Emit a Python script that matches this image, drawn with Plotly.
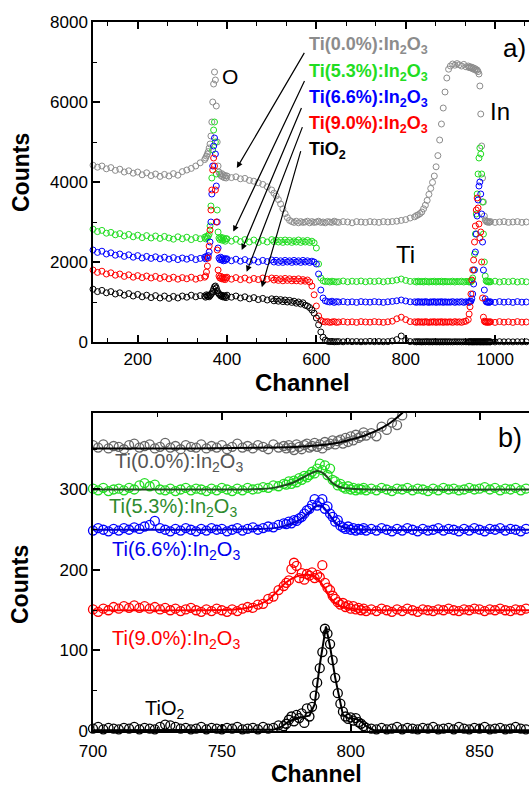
import plotly.graph_objects as go

# ---------------- panel a) : channel grid and counts ----------------
ch_a = (list(range(100, 350, 10)) + list(range(350, 400, 2)) + list(range(400, 500, 10))
        + list(range(500, 650, 5)) + list(range(650, 820, 10)) + list(range(820, 900, 4))
        + list(range(900, 940, 5)) + list(range(940, 990, 2)) + list(range(990, 1080, 10)))

ti00_a = [4420, 4370, 4400, 4330, 4360, 4290, 4320, 4250, 4280, 4220, 4250, 4180, 4230, 4160, 4200, 4140, 4190, 4150, 4210, 4170, 4260, 4300, 4340, 4400, 4480,
          4560, 4600, 4650, 4700, 4760, 4850, 4950, 5150, 5500, 6000, 6450, 6750, 6550, 5900, 5000, 4400, 4250, 4200, 4160, 4210, 4130, 4180, 4110, 4160, 4100,
          4150, 4110, 4130, 4080, 4090, 4040, 4020, 3980, 3940, 3880,
          3800, 3720, 3650, 3560, 3450, 3330, 3210, 3110, 3040, 3010, 2990, 3020, 2980, 3010, 2990, 3000, 3020, 2980, 3010, 2990, 3000, 3020, 2990, 3000, 2980, 3010, 3000, 2990, 3020, 3000,
          2990, 3010, 3000, 2980, 3010, 3000, 2990, 3010, 3000, 2990, 3010, 3000, 3010, 3020, 3040, 3060, 3100,
          3130, 3160, 3180, 3210, 3250, 3330, 3420, 3540, 3690, 3840, 3990, 4150, 4380, 4660, 5050, 5450, 5850, 6250, 6600, 6820,
          6900, 6950, 6920, 6960, 6930, 6900, 6940, 6880,
          6900, 6860, 6880, 6850, 6870, 6830, 6850, 6810, 6830, 6790, 6800, 6760, 6700, 6400, 5700, 4900, 4100, 3500, 3150, 3050, 3020, 3000, 3010, 2990, 3000,
          3010, 2990, 3000, 3010, 2990, 3000, 3010, 2990, 3000]

ti53_a = [2820, 2760, 2790, 2720, 2740, 2680, 2710, 2650, 2690, 2630, 2670, 2610, 2660, 2600, 2650, 2590, 2640, 2600, 2570, 2630, 2580, 2620, 2560, 2610, 2580,
          2620, 2580, 2640, 2600, 2650, 2700, 2900, 3400, 4100, 4800, 5300, 5500, 5000, 4200, 3300, 2750, 2600, 2560, 2620, 2580, 2540, 2600, 2560, 2520, 2580,
          2580, 2520, 2570, 2510, 2560, 2500, 2550, 2490, 2540, 2500,
          2560, 2510, 2550, 2500, 2540, 2490, 2550, 2500, 2540, 2490, 2530, 2500, 2550, 2490, 2530, 2500, 2540, 2490, 2520, 2480, 2350, 1950, 1600, 1530, 1510, 1520, 1500, 1520, 1510, 1500,
          1510, 1525, 1505, 1520, 1510, 1525, 1505, 1520, 1510, 1525, 1505, 1520, 1530, 1550, 1575, 1540, 1515,
          1515, 1500, 1520, 1505, 1515, 1500, 1520, 1510, 1500, 1515, 1505, 1520, 1500, 1515, 1505, 1520, 1500, 1515, 1505, 1510,
          1505, 1520, 1500, 1515, 1505, 1520, 1500, 1515,
          1510, 1500, 1520, 1505, 1530, 1600, 1800, 2200, 2700, 3200, 3700, 4200, 4600, 4850, 4700, 4200, 3500, 2700, 2000, 1650, 1530, 1510, 1520, 1500, 1515,
          1505, 1520, 1500, 1515, 1505, 1520, 1500, 1515, 1505]

ti66_a = [2300, 2240, 2270, 2200, 2230, 2170, 2200, 2140, 2180, 2120, 2160, 2100, 2140, 2090, 2130, 2080, 2120, 2070, 2110, 2060, 2100, 2070, 2110, 2060, 2090,
          2120, 2080, 2140, 2100, 2160, 2250, 2500, 3000, 3700, 4400, 4900, 5100, 4700, 3900, 3000, 2350, 2100, 2060, 2120, 2050, 2080, 2030, 2090, 2040, 2070,
          2080, 2030, 2070, 2020, 2060, 2010, 2050, 2000, 2040, 2010,
          2050, 2000, 2040, 1990, 2030, 1990, 2040, 2000, 2030, 1990, 2040, 2000, 2030, 1990, 2040, 2000, 2030, 1990, 2020, 2000, 1950, 1700, 1300, 1100, 1030, 1010, 1000, 1020, 990, 1010,
          1000, 1010, 995, 1005, 990, 1010, 1000, 995, 1010, 1000, 990, 1005, 1015, 1030, 1050, 1025, 1005,
          1005, 990, 1010, 995, 1005, 990, 1010, 1000, 990, 1005, 995, 1010, 990, 1005, 995, 1010, 990, 1005, 995, 1000,
          995, 1010, 990, 1005, 995, 1010, 990, 1005,
          1000, 990, 1010, 1020, 1080, 1200, 1450, 1800, 2250, 2700, 3150, 3550, 3900, 4000, 3700, 3200, 2500, 1800, 1300, 1080, 1010, 995, 1005, 990, 1000,
          1005, 990, 1010, 995, 1005, 990, 1010, 995, 1000]

ti90_a = [1800, 1740, 1770, 1700, 1730, 1670, 1700, 1640, 1680, 1620, 1660, 1610, 1650, 1600, 1640, 1590, 1630, 1580, 1620, 1570, 1610, 1580, 1620, 1570, 1600,
          1620, 1650, 1750, 1900, 2100, 2400, 2800, 3300, 3800, 4300, 4600, 4400, 3800, 3000, 2300, 1800, 1650, 1600, 1640, 1580, 1620, 1570, 1610, 1560, 1600,
          1620, 1570, 1610, 1560, 1600, 1550, 1590, 1560, 1600, 1570,
          1600, 1550, 1590, 1540, 1580, 1530, 1590, 1540, 1580, 1530, 1570, 1530, 1580, 1520, 1560, 1520, 1550, 1500, 1400, 1180, 900, 650, 540, 510, 500, 510, 490, 500, 510, 490,
          500, 510, 495, 505, 490, 510, 500, 495, 510, 500, 490, 505, 520, 580, 620, 560, 510,
          505, 490, 510, 495, 505, 490, 510, 500, 490, 505, 495, 510, 490, 505, 495, 510, 490, 505, 495, 500,
          505, 490, 510, 495, 505, 490, 510, 520,
          560, 700, 880, 1200, 1550, 1800, 2050, 2500, 2900, 3300, 3600, 3350, 2950, 2600, 2750, 2000, 1100, 620, 520, 500, 510, 490, 505, 495, 500,
          505, 490, 510, 495, 505, 490, 510, 495, 500]

tio2_a = [1320, 1260, 1290, 1230, 1260, 1200, 1230, 1170, 1210, 1150, 1190, 1130, 1170, 1110, 1160, 1100, 1150, 1090, 1140, 1100, 1150, 1120, 1170, 1130, 1160,
          1150, 1120, 1180, 1140, 1170, 1130, 1160, 1190, 1220, 1260, 1320, 1380, 1400, 1350, 1280, 1230, 1200, 1180, 1150, 1170, 1130, 1160, 1120, 1150, 1110,
          1170, 1120, 1150, 1100, 1130, 1080, 1110, 1060, 1090, 1050,
          1080, 1030, 1070, 1020, 1060, 1010, 1050, 1000, 1040, 990, 1020, 970, 1000, 950, 980, 920, 900, 860, 800, 720, 600, 430, 250, 120, 50, 20, 10, 15, 5, 10,
          10, 5, 15, 8, 12, 5, 10, 15, 8, 12, 6, 10, 25, 60, 150, 40, 10,
          8, 3, 10, 5, 2, 8, 4, 10, 3, 7, 2, 9, 4, 6, 2, 8, 3, 7, 4, 6,
          5, 2, 8, 4, 7, 3, 6, 4,
          5, 3, 8, 4, 6, 2, 7, 4, 9, 3, 6, 4, 8, 2, 6, 4, 7, 3, 5, 8, 3, 6, 4, 7, 3,
          5, 2, 8, 4, 6, 3, 7, 4, 5]

# ---------------- panel b) : channel grid, counts and fits ----------------
ch_b = list(range(700, 775, 2)) + list(range(775, 807)) + list(range(808, 870, 2))

ti00_b = [355, 352, 356, 351, 354, 353, 350, 355, 357, 352, 354, 356, 351, 353, 358, 352, 354, 350, 355, 353, 352, 356, 351, 354, 352, 355, 350, 353, 357, 352, 354, 351, 355, 353, 350, 356, 352, 354,
          351, 355, 352, 349, 356, 353, 350, 355, 357, 352, 354, 358, 353, 356, 351, 359, 355, 357, 361, 356, 360, 362, 357, 364, 359, 366, 361, 368, 364, 366, 371, 367,
          370, 366, 378, 374, 383, 380, 392, 399, 408, 418, 428, 440, 455, 470, 488, 505, 525, 548, 572, 598, 625, 655, 688, 722, 760, 800, 842, 888, 935, 985, 1040]

ti53_b = [301, 299, 302, 298, 300, 301, 299, 302, 300, 305, 308, 304, 306, 300, 299, 301, 298, 300, 302, 299, 301, 300, 298, 301, 299, 302, 300, 298, 301, 299, 302, 300, 301, 303, 302, 305, 304, 307,
          306, 310, 307, 311, 309, 314, 312, 317, 315, 318, 322, 320, 326, 332, 324, 330, 318, 326, 312, 310, 305, 307, 303, 301, 304, 300, 302, 299, 301, 300, 302, 299,
          301, 299, 302, 300, 298, 301, 300, 302, 299, 301, 300, 298, 301, 299, 302, 300, 301, 299, 300, 302, 300, 301, 303, 300, 302, 299, 301, 300, 302, 299, 301]

ti66_b = [249, 252, 250, 248, 251, 249, 252, 250, 253, 251, 254, 256, 261, 252, 250, 248, 251, 249, 252, 250, 248, 251, 249, 252, 250, 251, 248, 250, 252, 249, 251, 253, 250, 252, 254, 253, 256, 258,
          257, 260, 258, 262, 261, 264, 266, 270, 274, 276, 281, 288, 280, 284, 288, 276, 279, 270, 266, 260, 262, 255, 253, 251, 254, 250, 252, 249, 251, 250, 252, 249,
          251, 249, 252, 250, 248, 251, 249, 252, 250, 248, 251, 249, 250, 252, 249, 251, 250, 248, 251, 249, 252, 250, 248, 251, 250, 252, 249, 251, 250, 248, 251]

ti90_b = [151, 148, 152, 150, 154, 152, 155, 153, 156, 153, 155, 152, 154, 151, 153, 150, 152, 149, 151, 153, 150, 148, 151, 149, 152, 150, 148, 151, 149, 152, 154, 153, 157, 158, 164, 167, 175, 180,
          184, 187, 201, 209, 205, 190, 196, 188, 195, 193, 197, 190, 194, 191, 206, 184, 178, 175, 168, 164, 160, 157, 159, 154, 156, 152, 155, 151, 153, 150, 152, 149,
          151, 149, 152, 150, 148, 151, 149, 152, 150, 148, 151, 150, 149, 151, 150, 152, 150, 149, 151, 150, 152, 151, 149, 151, 150, 152, 150, 149, 151, 150, 152]

tio2_b = [3, 5, 2, 4, 3, 2, 4, 3, 5, 2, 4, 3, 2, 5, 8, 7, 5, 3, 4, 2, 3, 5, 2, 4, 3, 2, 4, 3, 5, 2, 3, 4, 2, 5, 3, 4, 7, 6,
          9, 14, 18, 12, 20, 16, 22, 10, 28, 18, 30, 44, 60, 78, 98, 127, 121, 108, 88, 66, 47, 34, 24, 18, 15, 17, 13, 16, 11, 9, 6, 4,
          3, 2, 4, 2, 3, 5, 2, 4, 3, 2, 4, 3, 5, 2, 3, 4, 2, 5, 3, 2, 4, 3, 5, 2, 3, 4, 2, 3, 5, 3, 2]

fit00_x = [700, 740, 770, 780, 790, 795, 800, 805, 810, 815, 820, 825]
fit00_y = [351, 351, 352, 353, 355.5, 358, 362, 366.5, 373, 382, 395, 412]
fit53_x = [700, 740, 765, 770, 774, 778, 781, 784, 787, 789, 791, 793, 795, 797, 800, 810, 870]
fit53_y = [300, 300, 300.5, 302, 305, 309, 314, 319, 323, 321, 315, 308, 304, 302, 301, 300, 300]
fit66_x = [700, 740, 765, 770, 774, 778, 781, 784, 787, 789, 791, 793, 795, 797, 800, 810, 870]
fit66_y = [250, 250, 251, 252, 254.5, 259, 264, 272, 280, 279, 272, 263, 256, 253, 251, 250, 250]
fit90_x = [700, 740, 755, 760, 765, 768, 771, 774, 777, 780, 783, 786, 788, 790, 792, 794, 797, 800, 805, 815, 870]
fit90_y = [150, 150, 151, 153, 158, 163, 172, 182, 189, 193, 194, 192, 186, 177, 166, 159, 154, 152, 150.5, 150, 150]
fittio2_x = [700, 765, 770, 773, 776, 779, 782, 784, 786, 788, 790.4, 792, 794, 796, 797, 799, 802, 804, 806, 809, 870]
fittio2_y = [1, 1, 1.5, 5, 12, 16, 18, 19, 33, 82, 130, 105, 66, 32, 20, 16, 15, 12, 6, 1, 1]

labels = ["Ti(0.0%):In<sub>2</sub>O<sub>3</sub>", "Ti(5.3%):In<sub>2</sub>O<sub>3</sub>",
          "Ti(6.6%):In<sub>2</sub>O<sub>3</sub>", "Ti(9.0%):In<sub>2</sub>O<sub>3</sub>", "TiO<sub>2</sub>"]
marker_colors = ["#8c8c8c", "#22dd22", "#0000ff", "#ff0000", "#000000"]
FONT = "Liberation Sans, Arial, sans-serif"

fig = go.Figure()

series_a = [ti00_a, ti53_a, ti66_a, ti90_a, tio2_a]
for vals, col in zip(series_a, marker_colors):
    fig.add_trace(go.Scatter(x=ch_a, y=vals, mode="markers", xaxis="x", yaxis="y",
                             cliponaxis=False, showlegend=False,
                             marker=dict(symbol="circle-open", size=6, color=col, line=dict(width=1))))

series_b = [ti00_b, ti53_b, ti66_b, ti90_b, tio2_b]
colors_b = ["#666666", "#22dd22", "#0000ff", "#ff0000", "#000000"]
for i, (vals, col) in enumerate(zip(series_b, colors_b)):
    fig.add_trace(go.Scatter(x=ch_b, y=vals, mode="markers", xaxis="x2", yaxis="y2",
                             cliponaxis=(i == 0), showlegend=False,
                             marker=dict(symbol="circle-open", size=9, color=col, line=dict(width=1.3))))

fits = [(fit00_x, fit00_y, "#000000", "spline"), (fit53_x, fit53_y, "#1d4a1d", "spline"),
        (fit66_x, fit66_y, "#0000cc", "spline"), (fit90_x, fit90_y, "#ff0000", "spline"),
        (fittio2_x, fittio2_y, "#000000", "linear")]
for fx, fy, col, shape in fits:
    fig.add_trace(go.Scatter(x=fx, y=fy, mode="lines", xaxis="x2", yaxis="y2", showlegend=False,
                             line=dict(color=col, width=2, shape=shape)))

ML, MT, MB, W, H = 93, 22, 56, 529, 787
PW, PH = W - ML, H - MT - MB


def P(px, py):
    return (px - ML) / PW, (H - MB - py) / PH


ann = []


def text(t, px, py, size, color="black", bold=False, anchor="center", angle=0):
    x, y = P(px, py)
    ann.append(dict(text=("<b>%s</b>" % t) if bold else t, x=x, y=y, xref="paper", yref="paper",
                    xanchor=anchor, yanchor="middle", showarrow=False, textangle=angle,
                    font=dict(family=FONT, size=size, color=color)))


# labels panel a
top_pos = [(307, 46), (307, 72), (307, 98), (307, 124), (307, 150)]
for lab, col, (px, py) in zip(labels, marker_colors, top_pos):
    text(lab, px, py, 18, col, bold=True, anchor="left")
# labels panel b
bot_cols = ["#555555", "#2e8b2e", "#0000ee", "#ff0000", "#000000"]
bot_pos = [(113, 463), (107, 507), (110, 550), (110, 639), (143, 709)]
for lab, col, (px, py) in zip(labels, bot_cols, bot_pos):
    text(lab, px, py, 20, col, anchor="left")

text("O", 230, 76, 21)
text("In", 500, 111, 24)
text("a)", 514, 48, 26)
text("Ti", 405, 254, 24)
text("b)", 510, 438, 27)
text("Counts", 21, 173, 23, bold=True, angle=-90)
text("Counts", 20, 585, 23, bold=True, angle=-90)
text("Channel", 302, 382, 24, bold=True)
text("Channel", 316, 774, 23, bold=True)

# arrows (head -> tail in data units of panel a)
arrow_heads = [(422, 4350), (414, 2760), (433, 2300), (444, 1755), (478, 1370)]
arrow_tails = [(575, 7265), (575, 6563), (568, 5886), (570, 5409), (566, 4808)]
for (hx, hy), (tx, ty) in zip(arrow_heads, arrow_tails):
    ann.append(dict(text="", x=hx, y=hy, xref="x", yref="y", ax=tx, ay=ty, axref="x", ayref="y",
                    showarrow=True, arrowhead=2, arrowsize=1, arrowwidth=1.2, arrowcolor="black"))

axis_common = dict(showline=True, linecolor="black", linewidth=1.5, ticks="inside", tickcolor="black",
                   tickwidth=1.5, ticklen=7, showgrid=False, zeroline=False,
                   tickfont=dict(family=FONT, size=17, color="black"))

fig.update_layout(
    width=W, height=H, margin=dict(l=ML, r=0, t=MT, b=MB),
    paper_bgcolor="white", plot_bgcolor="white",
    xaxis=dict(domain=[0, 1], anchor="y", range=[100, 1076], tick0=0, dtick=200, mirror="ticks",
               ticklabelstandoff=1,
               minor=dict(tick0=0, dtick=200 / 3, ticks="inside", ticklen=4, tickwidth=1.2, tickcolor="black"),
               **axis_common),
    yaxis=dict(domain=[P(0, 342)[1], 1], anchor="x", range=[0, 8000], tick0=0, dtick=2000,
               minor=dict(tick0=0, dtick=1000, ticks="inside", ticklen=4, tickwidth=1.2, tickcolor="black"),
               **axis_common),
    xaxis2=dict(domain=[0, 1], anchor="y2", range=[700, 869.2], tick0=700, dtick=50, mirror="ticks",
                ticklabelstandoff=4,
                minor=dict(tick0=700, dtick=25, ticks="inside", ticklen=4, tickwidth=1.2, tickcolor="black"),
                **axis_common),
    yaxis2=dict(domain=[0, P(0, 413)[1]], anchor="x2", range=[0, 395], tick0=0, dtick=100,
                minor=dict(tick0=0, dtick=50, ticks="inside", ticklen=4, tickwidth=1.2, tickcolor="black"),
                **axis_common),
    annotations=ann,
)

fig.write_html("out.html")
